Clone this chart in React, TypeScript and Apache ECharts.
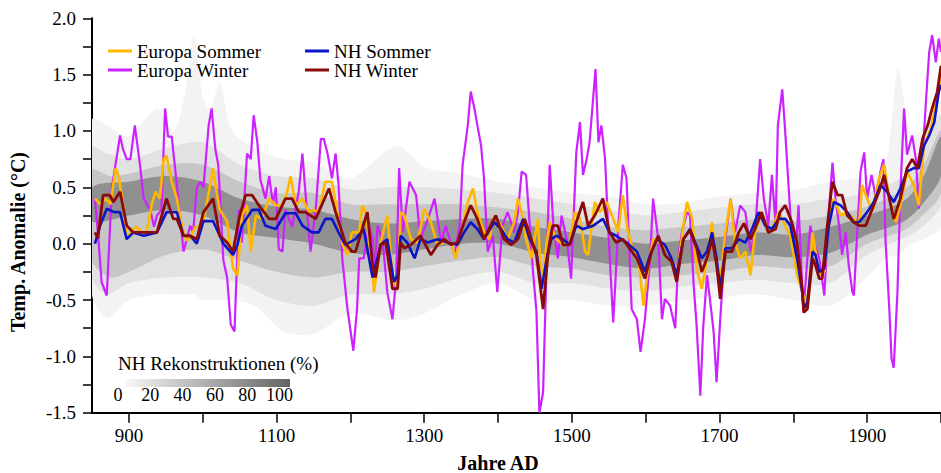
import React, { useEffect, useRef } from 'react';
import * as echarts from 'echarts';

// ---------- Data ----------
// Europa Sommer (orange)
const ES_YEARS = [854, 861, 868, 875, 882, 886, 892, 897, 902, 910, 918, 924, 931, 936, 942, 947, 951, 958, 965, 972, 978, 983, 990, 996, 1001, 1008, 1014, 1019, 1023, 1033, 1041, 1047, 1053, 1060, 1065, 1072, 1080, 1090, 1099, 1108, 1114, 1119, 1126, 1135, 1144, 1150, 1157, 1166, 1175, 1180, 1189, 1196, 1202, 1212, 1216, 1221, 1230, 1232, 1241, 1250, 1257, 1264, 1268, 1273, 1282, 1291, 1300, 1309, 1318, 1327, 1336, 1343, 1350, 1359, 1366, 1372, 1381, 1388, 1395, 1404, 1413, 1422, 1427, 1432, 1438, 1445, 1454, 1459, 1466, 1470, 1479, 1488, 1497, 1504, 1511, 1518, 1522, 1531, 1538, 1547, 1556, 1563, 1569, 1576, 1583, 1590, 1597, 1603, 1610, 1619, 1626, 1635, 1642, 1651, 1656, 1663, 1669, 1676, 1683, 1690, 1696, 1701, 1708, 1715, 1721, 1728, 1735, 1742, 1748, 1757, 1766, 1773, 1780, 1789, 1796, 1805, 1812, 1816, 1821, 1826, 1830, 1835, 1842, 1848, 1855, 1864, 1873, 1882, 1889, 1893, 1900, 1907, 1916, 1923, 1930, 1939, 1945, 1954, 1963, 1970, 1977, 1986, 1995, 2000];
const ES_VALUES = [0.40, 0.35, 0.40, 0.35, 0.67, 0.60, 0.35, 0.04, 0.10, 0.15, 0.10, 0.10, 0.35, 0.46, 0.40, 0.75, 0.78, 0.55, 0.40, 0.15, 0.03, 0.05, 0.15, 0.15, 0.20, 0.45, 0.67, 0.45, 0.30, 0.20, -0.22, -0.28, 0.25, 0.34, -0.07, 0.25, 0.22, 0.40, 0.34, 0.34, 0.45, 0.60, 0.34, 0.40, 0.28, 0.30, 0.28, 0.55, 0.55, 0.37, 0.00, -0.10, 0.10, 0.10, 0.34, 0.28, -0.25, -0.43, 0.01, 0.25, -0.28, -0.40, 0.28, 0.25, 0.04, 0.01, 0.31, 0.19, -0.01, 0.01, 0.01, -0.13, 0.10, 0.37, 0.49, 0.28, 0.10, 0.04, 0.25, 0.16, 0.04, 0.19, 0.40, 0.28, 0.04, -0.13, 0.22, -0.37, 0.01, 0.19, 0.04, -0.01, 0.01, 0.28, 0.22, -0.07, -0.10, 0.37, 0.28, 0.37, 0.22, 0.10, 0.43, 0.10, -0.07, -0.13, -0.55, -0.22, 0.04, 0.01, -0.01, -0.13, -0.31, 0.16, 0.37, 0.22, -0.22, -0.40, -0.13, 0.19, -0.19, -0.34, 0.10, 0.40, 0.01, -0.13, -0.07, -0.28, 0.10, 0.28, 0.10, 0.16, 0.28, 0.16, 0.07, -0.28, -0.43, -0.52, -0.43, 0.10, -0.07, -0.28, -0.25, 0.22, 0.40, 0.25, 0.28, 0.22, 0.16, 0.52, 0.40, 0.28, 0.58, 0.70, 0.40, 0.19, 0.34, 0.64, 0.52, 0.34, 0.87, 1.02, 1.29, 1.50];

// Europa Winter (purple)
const EW_YEARS = [854, 858, 863, 870, 877, 888, 892, 897, 902, 908, 915, 920, 929, 934, 938, 944, 949, 953, 958, 965, 974, 983, 987, 992, 997, 1001, 1008, 1012, 1017, 1021, 1028, 1033, 1038, 1043, 1049, 1053, 1060, 1065, 1069, 1074, 1078, 1085, 1090, 1095, 1099, 1103, 1108, 1112, 1121, 1130, 1135, 1141, 1146, 1153, 1160, 1164, 1169, 1175, 1180, 1184, 1189, 1196, 1204, 1209, 1212, 1218, 1225, 1230, 1232, 1237, 1244, 1250, 1257, 1262, 1266, 1271, 1280, 1289, 1295, 1305, 1314, 1323, 1329, 1341, 1348, 1352, 1359, 1363, 1368, 1372, 1377, 1381, 1386, 1393, 1399, 1406, 1413, 1422, 1427, 1432, 1438, 1443, 1447, 1452, 1456, 1461, 1466, 1470, 1475, 1481, 1486, 1493, 1499, 1506, 1511, 1515, 1520, 1524, 1532, 1536, 1540, 1545, 1549, 1556, 1563, 1569, 1574, 1581, 1588, 1593, 1599, 1606, 1610, 1617, 1622, 1626, 1633, 1640, 1644, 1649, 1656, 1660, 1665, 1669, 1674, 1678, 1683, 1687, 1692, 1696, 1701, 1708, 1715, 1721, 1728, 1735, 1742, 1748, 1755, 1760, 1766, 1771, 1776, 1779, 1785, 1789, 1794, 1798, 1803, 1807, 1812, 1814, 1819, 1823, 1828, 1835, 1842, 1848, 1853, 1857, 1862, 1866, 1871, 1875, 1880, 1882, 1887, 1891, 1896, 1900, 1906, 1912, 1918, 1922, 1925, 1930, 1933, 1936, 1941, 1945, 1950, 1954, 1961, 1966, 1970, 1975, 1979, 1984, 1988, 1993, 1997, 2000];
const EW_VALUES = [0.40, 0.10, -0.34, -0.46, 0.50, 0.96, 0.84, 0.75, 0.75, 1.05, 0.70, 0.40, 0.30, 0.15, 0.25, 0.30, 1.20, 0.95, 0.95, 0.52, -0.07, 0.16, 0.10, 0.50, 0.55, 0.50, 1.05, 1.20, 0.84, 0.70, -0.15, -0.30, -0.72, -0.78, 0.30, 0.01, 0.80, 0.75, 1.14, 0.90, 0.57, 0.40, 0.60, 0.35, 0.50, -0.05, -0.07, 0.30, 0.15, 0.46, 0.80, 0.30, -0.07, 0.30, 0.93, 0.93, 0.80, 0.58, 0.80, 0.52, -0.13, -0.58, -0.95, -0.58, -0.13, -0.13, 0.16, 0.04, -0.28, 0.16, 0.01, -0.43, -0.67, -0.31, 0.67, 0.10, 0.55, 0.43, 0.04, 0.22, 0.40, 0.01, 0.16, -0.10, 0.16, 0.70, 1.05, 1.35, 1.20, 1.05, 0.87, 0.58, -0.07, 0.07, -0.43, 0.16, 0.28, 0.10, 0.28, 0.64, 0.61, 0.16, -0.22, -0.60, -1.50, -1.32, -0.13, 0.70, 0.16, -0.13, 0.25, 0.04, -0.31, 0.81, 1.08, 0.61, 0.75, 0.90, 1.55, 0.90, 1.05, 0.75, 0.16, -0.70, 0.16, 0.70, 0.58, -0.58, -0.67, -0.96, -0.67, -0.13, 0.40, 0.04, -0.67, -0.49, -0.55, -0.75, -0.13, 0.10, 0.28, 0.25, -0.37, -0.73, -1.35, -0.73, -0.28, -0.49, -0.78, -1.23, -0.67, 0.04, 0.40, 0.10, 0.34, 0.28, -0.07, 0.10, 0.75, 0.40, 0.16, 0.61, 0.16, 1.05, 1.37, 0.99, 0.46, 0.04, -0.13, 0.34, -0.37, -0.58, -0.13, 0.16, 0.01, -0.13, -0.46, 0.28, 0.72, 0.40, 0.16, -0.10, 0.10, -0.19, -0.43, -0.46, 0.16, 0.64, 0.81, 0.40, 0.61, 0.40, 0.64, 0.75, 0.01, -0.58, -1.02, -1.10, -0.43, 0.46, 1.20, 0.79, 0.96, 0.75, 0.31, 0.75, 1.20, 1.70, 1.85, 1.61, 1.82, 1.70];

// NH Sommer (blue)
const NS_YEARS = [854, 861, 870, 880, 888, 897, 906, 920, 938, 951, 965, 974, 983, 992, 1001, 1014, 1028, 1041, 1047, 1053, 1067, 1076, 1085, 1099, 1112, 1126, 1135, 1148, 1157, 1166, 1175, 1184, 1193, 1207, 1218, 1230, 1241, 1250, 1259, 1264, 1268, 1277, 1287, 1295, 1305, 1318, 1332, 1345, 1354, 1363, 1372, 1381, 1395, 1404, 1413, 1422, 1427, 1434, 1443, 1452, 1459, 1466, 1472, 1479, 1488, 1497, 1506, 1515, 1529, 1542, 1551, 1560, 1574, 1588, 1599, 1606, 1615, 1626, 1635, 1642, 1651, 1660, 1667, 1676, 1683, 1690, 1696, 1701, 1708, 1717, 1726, 1735, 1744, 1753, 1762, 1771, 1780, 1789, 1796, 1805, 1812, 1814, 1819, 1826, 1830, 1835, 1842, 1848, 1855, 1864, 1873, 1882, 1889, 1900, 1909, 1918, 1927, 1936, 1945, 1954, 1963, 1970, 1977, 1984, 1991, 1997, 2000];
const NS_VALUES = [0.00, 0.16, 0.31, 0.28, 0.28, 0.04, 0.10, 0.07, 0.10, 0.28, 0.28, 0.07, 0.07, 0.00, 0.20, 0.20, 0.00, -0.10, -0.01, 0.16, 0.30, 0.30, 0.16, 0.13, 0.27, 0.27, 0.16, 0.10, 0.10, 0.22, 0.22, 0.10, -0.01, 0.04, 0.13, -0.30, -0.01, 0.04, -0.34, -0.28, 0.07, 0.01, -0.13, 0.04, 0.01, 0.04, 0.01, -0.01, 0.10, 0.19, 0.13, 0.04, 0.19, 0.13, 0.04, 0.01, 0.10, 0.22, 0.04, -0.07, -0.40, -0.13, 0.04, 0.07, 0.04, -0.01, 0.16, 0.13, 0.16, 0.22, 0.10, 0.07, 0.01, -0.07, -0.25, -0.10, 0.04, -0.01, -0.13, -0.28, 0.04, 0.13, 0.01, -0.13, -0.07, 0.10, -0.13, -0.40, -0.04, -0.04, 0.04, 0.01, 0.13, 0.28, 0.16, 0.13, 0.22, 0.22, 0.16, -0.13, -0.43, -0.58, -0.52, -0.07, -0.10, -0.25, -0.22, 0.16, 0.37, 0.34, 0.28, 0.19, 0.19, 0.28, 0.37, 0.52, 0.46, 0.37, 0.49, 0.64, 0.67, 0.67, 0.87, 0.96, 1.08, 1.35, 1.41];

// NH Winter (dark red)
const NW_YEARS = [854, 858, 865, 874, 879, 888, 897, 906, 920, 938, 951, 960, 965, 974, 983, 992, 1001, 1014, 1023, 1033, 1041, 1049, 1058, 1067, 1076, 1090, 1099, 1112, 1121, 1130, 1139, 1153, 1171, 1180, 1193, 1202, 1207, 1216, 1223, 1230, 1234, 1241, 1248, 1257, 1264, 1268, 1273, 1282, 1295, 1309, 1318, 1327, 1336, 1345, 1354, 1363, 1372, 1381, 1390, 1397, 1408, 1418, 1427, 1436, 1445, 1452, 1461, 1468, 1474, 1481, 1488, 1497, 1506, 1515, 1522, 1531, 1542, 1551, 1560, 1569, 1578, 1588, 1599, 1608, 1617, 1626, 1635, 1642, 1651, 1660, 1669, 1676, 1683, 1690, 1696, 1701, 1708, 1717, 1726, 1733, 1742, 1748, 1757, 1766, 1776, 1782, 1789, 1798, 1805, 1812, 1814, 1819, 1826, 1830, 1835, 1839, 1846, 1853, 1860, 1866, 1873, 1882, 1889, 1898, 1907, 1916, 1923, 1930, 1936, 1945, 1954, 1961, 1968, 1975, 1982, 1988, 1995, 2000];
const NW_VALUES = [0.10, 0.05, 0.43, 0.43, 0.37, 0.46, 0.16, 0.10, 0.10, 0.10, 0.40, 0.22, 0.22, 0.07, 0.07, 0.04, 0.28, 0.40, 0.07, 0.01, -0.07, 0.22, 0.43, 0.43, 0.34, 0.22, 0.22, 0.40, 0.40, 0.28, 0.28, 0.22, 0.49, 0.28, 0.01, -0.07, -0.07, 0.13, 0.28, -0.19, -0.30, -0.01, 0.01, -0.40, -0.40, 0.01, -0.04, -0.01, 0.07, -0.10, -0.01, 0.04, -0.01, 0.01, 0.19, 0.34, 0.22, 0.04, 0.16, 0.25, 0.04, -0.01, 0.04, 0.22, 0.04, -0.10, -0.58, -0.07, 0.16, 0.16, -0.01, -0.01, 0.19, 0.37, 0.16, 0.25, 0.40, 0.10, 0.01, 0.04, -0.04, -0.13, -0.31, -0.07, 0.07, -0.10, -0.16, -0.34, 0.04, 0.12, -0.04, -0.25, -0.13, 0.04, -0.19, -0.49, -0.07, -0.07, 0.10, 0.18, 0.04, 0.13, 0.28, 0.10, 0.13, 0.28, 0.34, 0.19, 0.01, -0.40, -0.61, -0.58, -0.13, -0.19, -0.31, -0.31, 0.16, 0.55, 0.43, 0.43, 0.25, 0.19, 0.16, 0.16, 0.31, 0.46, 0.61, 0.40, 0.22, 0.40, 0.67, 0.75, 0.67, 0.93, 1.05, 1.20, 1.35, 1.58];

// NH reconstructions spread (grey density), nested bands from widest to core
const G1_YEARS = [850, 870, 900, 938, 960, 975, 988, 1000, 1010, 1023, 1040, 1070, 1110, 1150, 1200, 1262, 1300, 1350, 1400, 1450, 1500, 1550, 1600, 1650, 1700, 1750, 1800, 1850, 1900, 1925, 1942, 1960, 1980, 2000];
const G1_LOW = [-0.45, -0.66, -0.5, -0.45, -0.45, -0.45, -0.45, -0.5, -0.5, -0.5, -0.5, -0.55, -0.78, -0.8, -0.62, -0.68, -0.62, -0.45, -0.35, -0.5, -0.5, -0.55, -0.55, -0.5, -0.48, -0.45, -0.5, -0.55, -0.3, -0.13, -0.1, 0.0, 0.05, 0.15];
const G1_HIGH = [1.1, 1.05, 0.95, 1.2, 1.0, 1.3, 1.85, 1.3, 1.2, 1.42, 1.0, 0.85, 0.75, 0.72, 0.58, 0.87, 0.68, 0.62, 0.55, 0.5, 0.45, 0.42, 0.35, 0.36, 0.42, 0.45, 0.48, 0.55, 0.6, 0.7, 1.55, 0.95, 1.05, 1.25];

const G2_YEARS = [850, 870, 900, 950, 1000, 1050, 1100, 1150, 1200, 1250, 1300, 1350, 1400, 1450, 1500, 1550, 1600, 1650, 1700, 1750, 1800, 1850, 1900, 1950, 1975, 2000];
const G2_LOW = [-0.3, -0.45, -0.35, -0.3, -0.3, -0.35, -0.5, -0.55, -0.45, -0.45, -0.4, -0.3, -0.25, -0.35, -0.35, -0.4, -0.42, -0.38, -0.35, -0.32, -0.35, -0.35, -0.1, 0.05, 0.15, 0.35];
const G2_HIGH = [0.85, 0.8, 0.75, 0.85, 0.9, 0.7, 0.6, 0.58, 0.48, 0.5, 0.5, 0.48, 0.45, 0.4, 0.35, 0.3, 0.25, 0.28, 0.32, 0.35, 0.35, 0.4, 0.45, 0.6, 0.8, 1.15];

const G3_YEARS = [850, 875, 900, 950, 1000, 1050, 1100, 1150, 1200, 1250, 1300, 1350, 1400, 1450, 1500, 1550, 1600, 1650, 1700, 1750, 1800, 1850, 1900, 1950, 1975, 2000];
const G3_LOW = [-0.15, -0.3, -0.25, -0.1, -0.05, -0.15, -0.25, -0.3, -0.25, -0.25, -0.2, -0.15, -0.12, -0.2, -0.22, -0.28, -0.3, -0.28, -0.25, -0.2, -0.22, -0.2, 0.0, 0.12, 0.25, 0.45];
const G3_HIGH = [0.65, 0.6, 0.62, 0.7, 0.7, 0.55, 0.45, 0.45, 0.35, 0.35, 0.35, 0.35, 0.32, 0.28, 0.22, 0.15, 0.12, 0.15, 0.18, 0.22, 0.2, 0.25, 0.33, 0.48, 0.68, 1.0];

const G4_YEARS = [850, 900, 950, 1000, 1050, 1100, 1150, 1200, 1250, 1300, 1350, 1400, 1450, 1500, 1550, 1600, 1650, 1700, 1750, 1800, 1850, 1900, 1950, 1975, 2000];
const G4_LOW = [0.2, 0.25, 0.3, 0.25, 0.1, 0.05, 0.0, -0.08, -0.1, -0.05, 0.0, 0.0, -0.08, -0.12, -0.18, -0.22, -0.18, -0.15, -0.1, -0.12, -0.08, 0.08, 0.2, 0.35, 0.6];
const G4_HIGH = [0.5, 0.55, 0.6, 0.55, 0.4, 0.33, 0.3, 0.22, 0.18, 0.2, 0.22, 0.22, 0.15, 0.1, 0.05, 0.0, 0.03, 0.06, 0.1, 0.08, 0.15, 0.25, 0.38, 0.58, 0.95];

// Axis ticks and labels
const X_TICKS = [900, 1000, 1100, 1200, 1300, 1400, 1500, 1600, 1700, 1800, 1900, 2000];
const X_LABELS = [900, 1100, 1300, 1500, 1700, 1900];
const CB_LABELS = ['0', '20', '40', '60', '80', '100'];

const SERIF = '"Liberation Serif", "Times New Roman", serif';

function pairs(xs: number[], ys: number[]) {
  return xs.map((x, i) => [x, ys[i]]);
}

function bandSeries(years: number[], low: number[], high: number[], color: string) {
  return {
    type: 'custom',
    coordinateSystem: 'cartesian2d',
    silent: true,
    clip: true,
    data: [[years[0], low[0]]],
    renderItem: (params: any, api: any) => {
      const pts: number[][] = [];
      for (let i = 0; i < years.length; i++) pts.push(api.coord([years[i], high[i]]));
      for (let i = years.length - 1; i >= 0; i--) pts.push(api.coord([years[i], low[i]]));
      return {
        type: 'polygon',
        shape: { points: pts, smooth: 0.3 },
        style: { fill: color, stroke: null },
      };
    },
  };
}

function lineSeries(name: string, years: number[], vals: number[], color: string, width: number) {
  return {
    name,
    type: 'line',
    data: pairs(years, vals),
    showSymbol: false,
    symbol: 'none',
    lineStyle: { color, width },
    itemStyle: { color },
    silent: true,
  };
}

export default function App() {
  const ref = useRef<HTMLDivElement>(null);
  useEffect(() => {
    if (!ref.current) return;
    const chart = echarts.init(ref.current, undefined, { renderer: 'svg' });
    const legendBase = {
      icon: 'rect',
      itemWidth: 24,
      itemHeight: 3,
      padding: 0,
      selectedMode: false,
      textStyle: { fontFamily: SERIF, fontSize: 19, color: '#000' },
    };
    const cbX0 = 118;
    const cbStep = 32.3;
    const option: any = {
      animation: false,
      backgroundColor: '#fff',
      grid: { left: 92, right: 0, top: 18.3, bottom: 60.3, containLabel: false },
      xAxis: {
        type: 'value',
        min: 850,
        max: 2000,
        axisLine: { show: true, onZero: false, lineStyle: { color: '#000', width: 2 } },
        axisTick: { show: true, length: 10, customValues: X_TICKS, lineStyle: { color: '#000', width: 1.5 } },
        axisLabel: {
          customValues: X_LABELS,
          margin: 13,
          fontFamily: SERIF,
          fontSize: 19,
          color: '#000',
          formatter: (v: number) => String(Math.round(v)),
        },
        splitLine: { show: false },
      },
      yAxis: {
        type: 'value',
        min: -1.5,
        max: 2.0,
        interval: 0.25,
        axisLine: { show: true, onZero: false, lineStyle: { color: '#000', width: 2 } },
        axisTick: { show: true, length: 9, lineStyle: { color: '#000', width: 1.5 } },
        axisLabel: {
          margin: 16,
          fontFamily: SERIF,
          fontSize: 19,
          color: '#000',
          formatter: (v: number) => (Math.abs(v * 2 - Math.round(v * 2)) < 1e-6 ? v.toFixed(1) : ''),
        },
        splitLine: { show: false },
      },
      legend: [
        { ...legendBase, data: ['Europa Sommer'], left: 108, top: 41.5 },
        { ...legendBase, data: ['Europa Winter'], left: 108, top: 60.5 },
        { ...legendBase, data: ['NH Sommer'], left: 305, top: 41.5 },
        { ...legendBase, data: ['NH Winter'], left: 305, top: 60.5 },
      ],
      series: [
        bandSeries(G1_YEARS, G1_LOW, G1_HIGH, '#f3f3f3'),
        bandSeries(G2_YEARS, G2_LOW, G2_HIGH, '#e2e2e2'),
        bandSeries(G3_YEARS, G3_LOW, G3_HIGH, '#c6c6c6'),
        bandSeries(G4_YEARS, G4_LOW, G4_HIGH, '#909090'),
        lineSeries('Europa Winter', EW_YEARS, EW_VALUES, '#CC22FF', 2.2),
        lineSeries('Europa Sommer', ES_YEARS, ES_VALUES, '#FFB800', 2.6),
        lineSeries('NH Sommer', NS_YEARS, NS_VALUES, '#0A14C8', 2.6),
        lineSeries('NH Winter', NW_YEARS, NW_VALUES, '#8A0A0A', 2.8),
      ],
      graphic: [
        {
          type: 'text',
          x: 18,
          y: 242,
          rotation: Math.PI / 2,
          style: {
            text: 'Temp. Anomalie (°C)',
            font: `bold 20px ${SERIF}`,
            fill: '#000',
            textAlign: 'center',
            textVerticalAlign: 'middle',
          },
        },
        {
          type: 'text',
          x: 498,
          y: 463,
          style: {
            text: 'Jahre AD',
            font: `bold 20px ${SERIF}`,
            fill: '#000',
            textAlign: 'center',
            textVerticalAlign: 'middle',
          },
        },
        {
          type: 'text',
          x: 118,
          y: 363,
          z: 100,
          style: {
            text: 'NH Rekonstruktionen (%)',
            font: `19px ${SERIF}`,
            fill: '#000',
            textAlign: 'left',
            textVerticalAlign: 'middle',
          },
        },
        {
          type: 'rect',
          z: 100,
          shape: { x: 126, y: 379, width: 164, height: 8 },
          style: {
            fill: new echarts.graphic.LinearGradient(0, 0, 1, 0, [
              { offset: 0, color: '#f6f6f6' },
              { offset: 1, color: '#636363' },
            ]),
          },
        },
        ...CB_LABELS.map((t, i) => ({
          type: 'text',
          x: cbX0 + i * cbStep,
          y: 395,
          z: 100,
          style: {
            text: t,
            font: `18px ${SERIF}`,
            fill: '#000',
            textAlign: 'center',
            textVerticalAlign: 'middle',
          },
        })),
      ],
    };
    chart.setOption(option);
    return () => chart.dispose();
  }, []);
  return (
    <div
      ref={ref}
      style={{ position: 'fixed', left: 0, top: 0, width: 941, height: 473, background: '#fff' }}
    />
  );
}
